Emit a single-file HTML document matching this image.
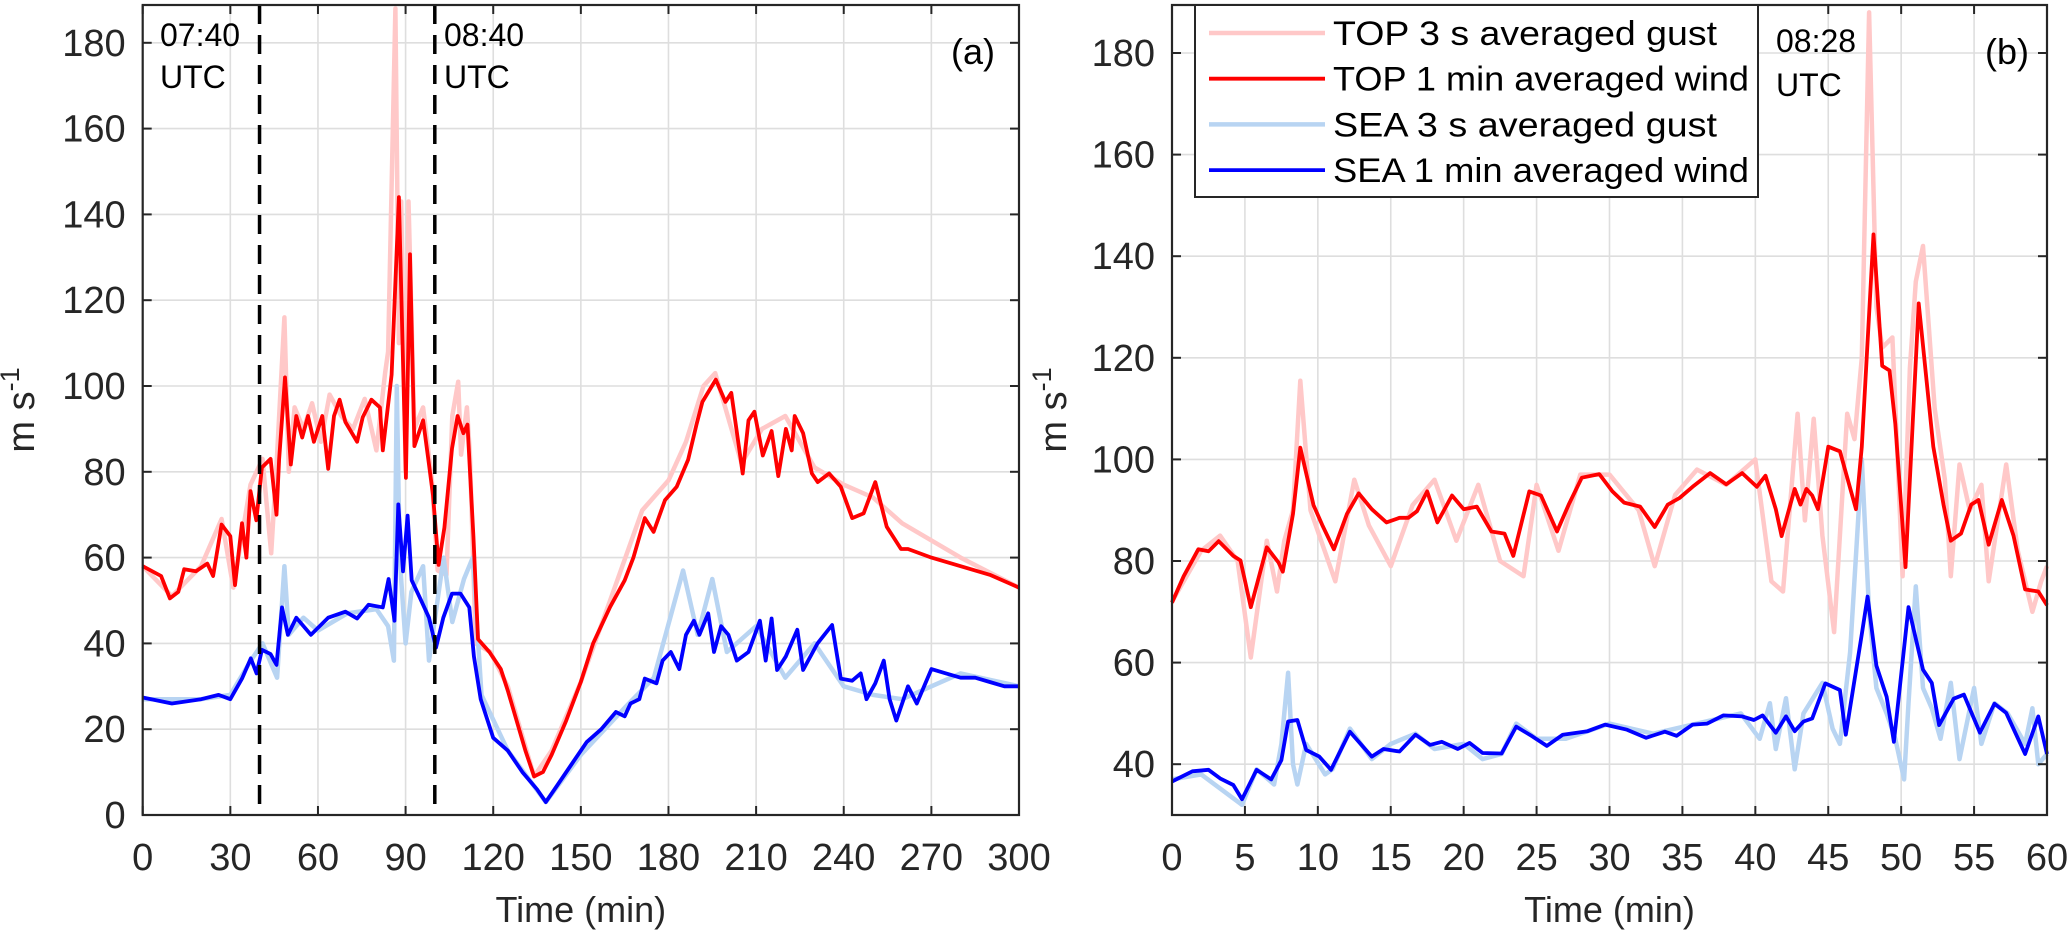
<!DOCTYPE html>
<html><head><meta charset="utf-8"><style>
html,body{margin:0;padding:0;background:#fff;}
svg{display:block;font-family:"Liberation Sans",Arial,sans-serif;}
</style></head><body>
<svg id="chart" width="2067" height="931" viewBox="0 0 2067 931" xmlns="http://www.w3.org/2000/svg"></svg>
<script>
// ===== Panel (a) data =====
const aTopWindT = [0,6.3,9.3,12.2,14.2,18.2,22.1,24.1,27,30,31.6,34,35.5,36.9,38.9,40.8,43.8,45.8,46.7,48.7,50.7,52.6,54.6,56.6,58.6,61.5,63.5,65.5,67.4,69.4,73.4,75.3,78.3,81.2,82.2,85.2,87.7,90.1,91.5,93,96,98,99.4,101.3,103.3,105.9,107.8,109.8,111.2,113.2,114.8,118.7,122.6,125,128,131,134,137,140,145,150,154.2,160,165,168,171.9,174.9,178.8,182.8,186.7,189.6,191.6,196.2,199.5,201.5,205.4,207.4,209.4,212.3,215.3,217.6,220.2,222.2,223.2,226.1,229.1,231.1,235,239,242.9,246.8,250.8,254.7,259.6,262,270,280,290,300];
const aTopWindV = [58,55.7,50.5,52,57.3,56.8,58.6,55.7,67.7,65,53.6,68,60,75.5,68.7,81,83,70,82.8,102,81.7,93,88,93,87,93,80.7,93,96.8,91.6,87,92.7,96.8,95,85,102.6,144,78.6,130.7,86,92,81.7,74.5,58.3,67,85.4,93,89,91,65,41,38,34,29,22,15,9,10,14,22,31,40,48.5,54.7,60,69.2,66,73.4,76.5,82.8,91,96.3,101.5,96.3,98.4,79.6,92,94,83.8,89.5,79,90,85,93,89,79.6,77.6,79.6,76.5,69.2,70.3,77.6,67.2,62,62,60,58,56,53];
const aTopGustT = [0,10,20,27,31,36.9,41,44,46,48.5,50,52,55,58,61,64,68,72,76,80,83,84,86.5,87.7,88.5,90,91,93,96,99,101,104,106,108,109,111,112,114,119,125,134,140,150,160,171,180,186,192,196,205,212,220,230,240,250,260,280,300];
const aTopGustV = [58,51,58,69,53,77,83,61,84,116,80,95,90,96,87,98,93,90,97,85,103,108,188,110,143,80,143,90,95,78,57,56,93,101,84,95,84,40,38,30,9,15,31,50,71,78,87,100,103,82,90,93,81,77,74,68,60,53];
const aSeaWindT = [0,10,20,26,30,34,37,39,40.8,43.8,45.8,47.7,49.7,52.6,57.6,63.5,69.4,73.4,77.3,82.2,84.2,86.2,87.5,89.1,90.7,92.1,95,98,100.4,102.9,105.9,108.8,111.8,113.4,115.7,120,125,130,135,138,142,147,152,157,162,165,167,170,171.9,175.9,178,180.8,183.7,186,188.7,190.6,193.6,195.6,198,200.5,203.4,207.4,211.3,213.3,215.3,217.2,220.2,224.1,226.1,231,236,239,242.9,245.8,247.8,250.8,253.7,255.7,258,262,265,270,275,280,285,290,295,300];
const aSeaWindV = [27.4,26,27,28,27,31.8,36.5,33,38.5,37.5,35,48.4,42,46,42,46,47.4,45.8,49,48.4,55,45.3,72.4,56.8,69.8,54.7,50.5,46,39,46,51.6,51.6,48.4,37,27,18,15,10,6,3,7,12,17,20,24,23,26,27,31.8,30.7,36,38,34,42,45.3,42,47,38,44,42,36,38,45.3,36,45.8,33.8,37,43.2,33.8,40,44.3,31.8,31.3,33,27,30.7,36,27,22,30,26,34,33,32,32,31,30,30];
const aSeaGustT = [0,20,30,37,41,46,48.5,50,55,60,70,80,84,86,87,88,90,92,96,98,103,106,110,113,116,125,138,150,165,175,185,190,195,200,210,220,230,240,250,260,280,300];
const aSeaGustV = [27,27,28,36,40,32,58,42,46,43,47,48,44,36,100,60,40,52,58,36,60,45,55,60,28,15,3,14,25,32,57,42,55,38,44,32,40,30,28,27,33,30];

// ===== Panel (b) data =====
const bTopWindT = [0,0.8,1.8,2.5,3.2,4.2,4.7,5.4,6.5,7.3,7.6,8.3,8.8,9.7,10.3,11.1,12,12.8,13.7,14.7,15.6,16.2,16.8,17.5,18.2,19.2,20,20.9,21.9,22.8,23.4,24.5,25.3,26.4,27.2,28.1,29.3,30.2,31,32.1,33.1,34,34.8,35.7,36.9,38,39.1,40.1,40.7,41.4,41.8,42.7,43.1,43.5,43.9,44.3,45,45.8,46.9,47.3,48.1,48.7,49.2,49.6,50.3,51.2,52.2,52.9,53.4,54.1,54.8,55.3,56,56.9,57.7,58.5,59.4,60];
const bTopWindV = [71.8,77,82.3,81.9,83.9,81,80.1,70.9,82.7,79.7,77.9,89.3,102.3,91,87.1,82.3,89.3,93.3,90.2,87.6,88.5,88.5,89.8,93.7,87.6,92.9,90.2,90.7,85.8,85.4,81,93.7,92.9,85.8,91.1,96.4,97.1,93.7,91.5,90.7,86.7,91.1,92.4,94.6,97.3,95.1,97.3,94.6,96.8,90.2,84.9,94.2,91.1,94.2,92.9,90.2,102.5,101.6,90.2,102.5,144.3,118.4,117.5,107,78.8,130.7,102.5,91.1,84,85.4,91.1,92,83.2,92,85,74.4,74,71.3];
const bTopGustT = [0,2,3.3,4.5,5.4,6.5,7.2,7.7,8.3,8.8,9.5,11.2,12.5,13.5,15,16.5,18,19.5,21,22.5,24.1,25,26.5,28,30,32,33.1,34.5,36,38,40,41.1,41.9,42.9,43.4,44,44.6,45.4,46.3,46.8,47.3,47.8,48.3,48.7,49.4,50.1,50.6,51,51.5,52.3,53,53.4,54,54.7,55.5,56,57.2,58,59,59.6,60];
const bTopGustV = [72,82,85,80,61,84,74,84,90,115.5,90,76,96,87,79,91,96,84,95,80,77,95,82,97,97,90,79,93,98,95,100,76,74,109,88,108,85,66,109,104,120,188,130,122,124,77,118,135,142,110,96,77,99,90,95,76,99,82,70,76,79];
const bSeaGustT = [0,2,4.8,5.8,7,7.5,7.96,8.3,8.6,9.2,10.5,11,12.2,13.7,15,16.7,18,20,21.3,22.6,23.6,25,27,30,33,36,39,40.3,41,41.4,42.1,42.7,43.3,44.6,45.3,45.8,46.5,47.3,47.8,48.3,49,49.6,50.2,50.5,51,51.5,52.1,52.7,53.4,54,55,55.5,56.4,57.3,58.5,59,59.4,60];
const bSeaGustV = [37,38,32,39,36,44,58,40,36,44,38,39,47,41,44,46,43,44,41,42,48,45,45,48,46,48,50,45,52,43,53,39,50,56,47,44,62,100,70,55,50,45,37,52,75,55,51,45,56,41,55,44,52,50,44,51,40,42];
const bSeaWindT = [0,1.4,2.5,3.3,4.2,4.8,5.8,6.8,7.5,7.96,8.6,9.2,10.1,10.9,12.2,13.7,14.5,15.6,16.7,17.7,18.5,19.6,20.4,21.3,22.6,23.6,24.7,25.7,26.8,28.5,29.7,31.2,32.5,33.8,34.6,35.7,36.7,37.8,39.1,39.9,40.5,41.4,42.1,42.7,43.3,43.9,44.8,45.8,46.2,47.3,47.7,48.3,49,49.5,50.5,51.5,52.1,52.6,53.6,54.3,55.4,56.4,57.2,58.5,59.4,60];
const bSeaWindV = [36.6,38.6,38.9,37.2,35.9,33.1,38.9,37,40.8,48.4,48.7,42.8,41.5,38.9,46.4,41.5,43,42.5,45.8,43.8,44.4,43,44.2,42.2,42.1,47.4,45.5,43.6,45.8,46.5,47.8,46.8,45.2,46.4,45.6,47.8,48,49.6,49.4,48.7,49.6,46.2,49.4,46.5,48.4,49,55.9,54.6,45.8,65.6,73,59.4,53.3,44.4,70.9,58.6,56,47.7,52.9,53.7,46.2,51.9,50.1,42,49.4,42];

const aYTicks = [0,20,40,60,80,100,120,140,160,180];
const aXTicks = [0,30,60,90,120,150,180,210,240,270,300];
const bYTicks = [40,60,80,100,120,140,160,180];
const bXTicks = [0,5,10,15,20,25,30,35,40,45,50,55,60];
const aMarkers = [40,100];

const NS = 'http://www.w3.org/2000/svg';
const svg = document.getElementById('chart');
function mk(tag, attrs, parent){
  const e = document.createElementNS(NS, tag);
  for (const k in attrs) e.setAttribute(k, attrs[k]);
  (parent||svg).appendChild(e);
  return e;
}

const PA = {x0:142.7, x1:1019, y0:815, y1:5, xmin:0, xmax:300, ymin:0, ymax:810/4.29};
const PB = {x0:1172, x1:2047, y0:815, y1:5, xmin:0, xmax:60, ymin:30, ymax:30+810/5.08};
function sx(p,v){return p.x0 + (v-p.xmin)/(p.xmax-p.xmin)*(p.x1-p.x0);}
function sy(p,v){return p.y0 - (v-p.ymin)/(p.ymax-p.ymin)*(p.y0-p.y1);}

function axesFrame(p, xt, yt, name){
  const g = mk('g',{});
  
  
  xt.forEach(t=>{const l=mk('line',{x1:sx(p,t),x2:sx(p,t),y1:p.y1,y2:p.y0,stroke:'#dedede','stroke-width':1.6},g);
     });
  yt.forEach(t=>{const l=mk('line',{x1:p.x0,x2:p.x1,y1:sy(p,t),y2:sy(p,t),stroke:'#dedede','stroke-width':1.6},g);
     });
}
function axesBox(p, xt, yt, name, ylx){
  const g = mk('g',{});
  
  
  mk('rect',{x:p.x0,y:p.y1,width:p.x1-p.x0,height:p.y0-p.y1,fill:'none',stroke:'#262626','stroke-width':2.2},g);
  xt.forEach(t=>{
    const x=sx(p,t);
    mk('line',{x1:x,x2:x,y1:p.y0,y2:p.y0-9,stroke:'#262626','stroke-width':2},g);
    mk('line',{x1:x,x2:x,y1:p.y1,y2:p.y1+9,stroke:'#262626','stroke-width':2},g);
    const tx=mk('text',{x:x,y:870,'font-size':38,'text-anchor':'middle',fill:'#262626'},g);
    tx.textContent=t;
     
  });
  yt.forEach(t=>{
    const y=sy(p,t);
    mk('line',{x1:p.x0,x2:p.x0+9,y1:y,y2:y,stroke:'#262626','stroke-width':2},g);
    mk('line',{x1:p.x1,x2:p.x1-9,y1:y,y2:y,stroke:'#262626','stroke-width':2},g);
    const tx=mk('text',{x:p.x0-17,y:y+13,'font-size':38,'text-anchor':'end',fill:'#262626'},g);
    tx.textContent=t;
     
  });
  const xl=mk('text',{x:(p.x0+p.x1)/2,y:922,'font-size':36,'text-anchor':'middle',fill:'#262626'},g);
  xl.textContent='Time (min)';
   
  const yl=mk('text',{x:0,y:0,'font-size':38,'text-anchor':'middle',fill:'#262626',transform:`translate(${ylx},410) rotate(-90)`},g);
  yl.innerHTML='m s<tspan dy="-15" font-size="27">-1</tspan>';
   
}
function series(p, T, V, color, w, name){
  let d='';
  T.forEach((t,i)=>{d+=(i?'L':'M')+sx(p,t).toFixed(1)+','+sy(p,V[i]).toFixed(1);});
  const path=mk('path',{d:d,fill:'none',stroke:color,'stroke-width':w,'stroke-linejoin':'round'});
  
  
}
function txt(x,y,s,size,name,anchor){
  const t=mk('text',{x:x,y:y,'font-size':size,fill:'#000','text-anchor':anchor||'start'});
  t.textContent=s;
  
  
}

// panel a
axesFrame(PA,aXTicks,aYTicks,'panel-a');
series(PA,aTopGustT,aTopGustV,'#ffc8c8',4.5,'top-gust-line-a');
series(PA,aSeaGustT,aSeaGustV,'#b8d4f2',4.5,'sea-gust-line-a');
series(PA,aTopWindT,aTopWindV,'#ff0000',3.8,'top-wind-line-a');
series(PA,aSeaWindT,aSeaWindV,'#0000ff',3.8,'sea-wind-line-a');
aMarkers.forEach(m=>{
  const l=mk('line',{x1:sx(PA,m),x2:sx(PA,m),y1:PA.y1,y2:PA.y0,stroke:'#000','stroke-width':3.5,'stroke-dasharray':'19,11'});
   
});
axesBox(PA,aXTicks,aYTicks,'panel-a',34);
txt(160,46,'07:40',32,'marker-label-0740');
txt(160,88,'UTC',32,'marker-label-utc');
txt(444,46,'08:40',32,'marker-label-0840');
txt(444,88,'UTC',32,'marker-label-utc');
txt(973,64,'(a)',36,'panel-a-label','middle');

// panel b
axesFrame(PB,bXTicks,bYTicks,'panel-b');
series(PB,bTopGustT,bTopGustV,'#ffc8c8',4.5,'top-gust-line-b');
series(PB,bSeaGustT,bSeaGustV,'#b8d4f2',4.5,'sea-gust-line-b');
series(PB,bTopWindT,bTopWindV,'#ff0000',3.8,'top-wind-line-b');
series(PB,bSeaWindT,bSeaWindV,'#0000ff',3.8,'sea-wind-line-b');
axesBox(PB,bXTicks,bYTicks,'panel-b',1066);
txt(1776,52,'08:28',32,'time-label-0828');
txt(1776,96,'UTC',32,'time-label-utc');
txt(2007,64,'(b)',36,'panel-b-label','middle');

// legend
const lg = mk('g',{});


mk('rect',{x:1195,y:5,width:563,height:192,fill:'#fff',stroke:'#262626','stroke-width':2},lg);
const legLabels=['TOP 3 s averaged gust','TOP 1 min averaged wind','SEA 3 s averaged gust','SEA 1 min averaged wind'];
const legColors=['#ffc8c8','#ff0000','#b8d4f2','#0000ff'];
legLabels.forEach((s,i)=>{
  const y=33+i*45.7;
  const e=mk('g',{},lg);
  
  
  mk('line',{x1:1209,x2:1325,y1:y,y2:y,stroke:legColors[i],'stroke-width':i%2?3.8:4.5},e);
  const t=mk('text',{x:1333,y:y+12,'font-size':34,fill:'#000',textLength:s.length>22?416:384,lengthAdjust:'spacingAndGlyphs'},e);
  t.textContent=s;
});
</script>
</body></html>
